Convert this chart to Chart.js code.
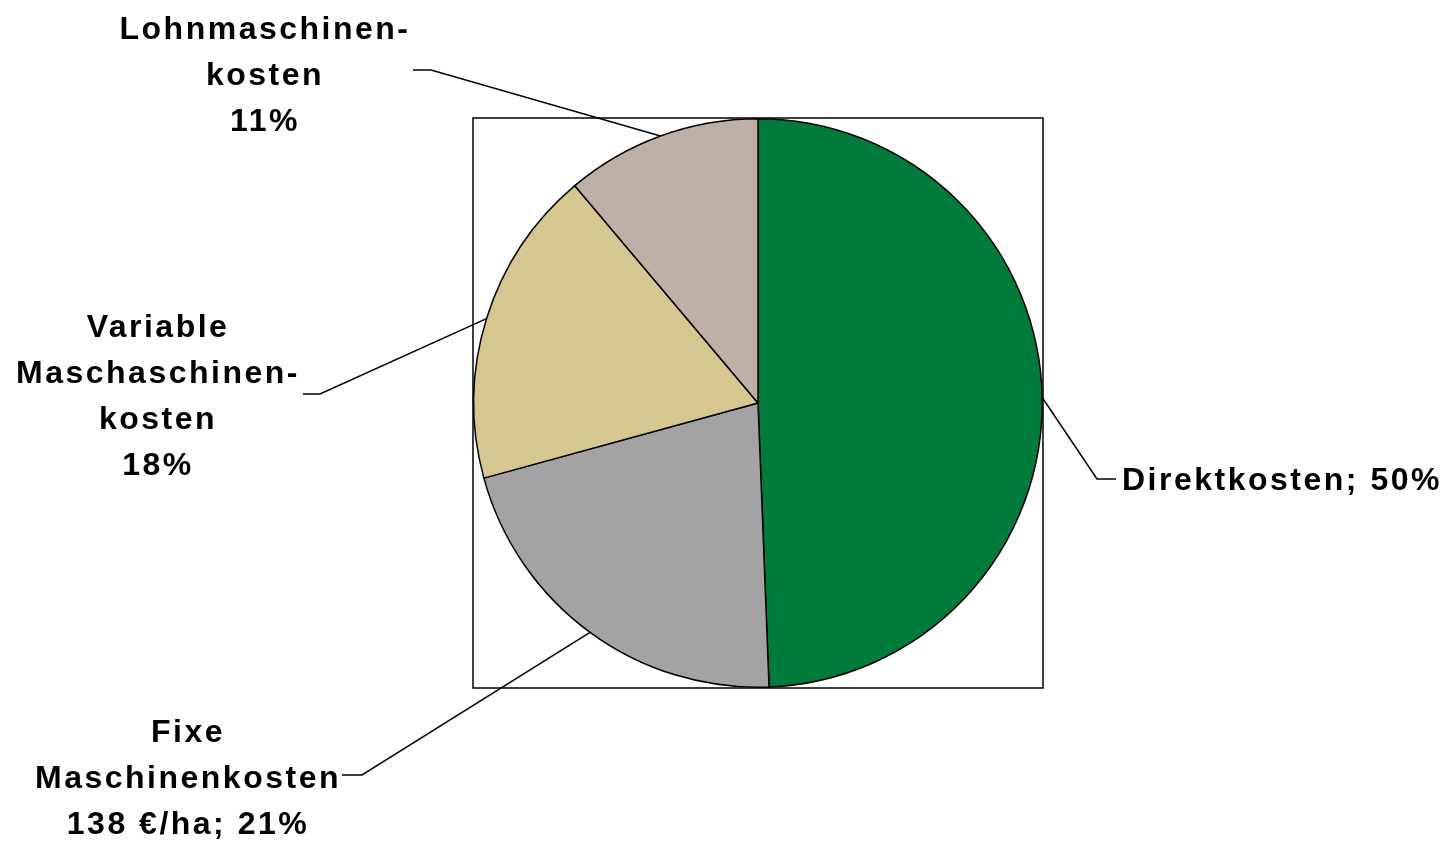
<!DOCTYPE html>
<html>
<head>
<meta charset="utf-8">
<script src="https://cdn.jsdelivr.net/npm/chart.js@4.4.1/dist/chart.umd.min.js"></script>
<style>
html,body{margin:0;padding:0;background:#fff;}
#wrap{width:1444px;height:842px;position:relative;}
</style>
</head>
<body>
<div id="wrap"><canvas id="c" width="1444" height="842"></canvas></div>
<script>
// Data (€/ha)
const categories = ['Direktkosten', 'Fixe Maschinenkosten', 'Variable Maschaschinenkosten', 'Lohnmaschinenkosten'];
const values = [319, 138, 117, 72];
const percentLabels = ['50%', '21%', '18%', '11%'];
const labelLines = [
  ['Direktkosten; 50%'],
  ['Fixe', 'Maschinenkosten', '138 €/ha; 21%'],
  ['Variable', 'Maschaschinen-', 'kosten', '18%'],
  ['Lohnmaschinen-', 'kosten', '11%']
];
const colors = ['#007B3C', '#A3A3A3', '#D5C78F', '#BFB0A7'];

// Layout for the labels (positions only)
const labelLayout = [
  {x: 1122, y: 490, align: 'left',   knee: [1097, 479], tail: 1116},
  {x: 188,  y: 742, align: 'center', knee: [362, 775],  tail: 342},
  {x: 158,  y: 337, align: 'center', knee: [320, 394],  tail: 303},
  {x: 265,  y: 39,  align: 'center', knee: [431, 70],   tail: 413}
];

const labelPlugin = {
  id: 'labels',
  afterDatasetsDraw(chart) {
    const ctx = chart.ctx;
    const ca = chart.chartArea;
    const meta = chart.getDatasetMeta(0);
    ctx.save();
    // frame around plot area
    ctx.strokeStyle = '#000';
    ctx.lineWidth = 1.5;
    ctx.strokeRect(ca.left, ca.top, ca.right - ca.left, ca.bottom - ca.top);
    meta.data.forEach((arc, i) => {
      const p = arc.getProps(['x', 'y', 'startAngle', 'endAngle', 'outerRadius'], true);
      const a = (p.startAngle + p.endAngle) / 2;
      const ex = p.x + p.outerRadius * Math.cos(a);
      const ey = p.y + p.outerRadius * Math.sin(a);
      const L = labelLayout[i];
      ctx.beginPath();
      ctx.strokeStyle = '#000';
      ctx.lineWidth = 1.5;
      ctx.moveTo(ex, ey);
      ctx.lineTo(L.knee[0], L.knee[1]);
      ctx.lineTo(L.tail, L.knee[1]);
      ctx.stroke();
      ctx.fillStyle = '#000';
      ctx.font = 'bold 32px "Liberation Sans", Arial, sans-serif';
      ctx.letterSpacing = '2.5px';
      ctx.textAlign = L.align;
      ctx.textBaseline = 'alphabetic';
      labelLines[i].forEach((t, k) => {
        ctx.fillText(t, L.x, L.y + k * 46);
      });
    });
    ctx.restore();
  }
};

new Chart(document.getElementById('c'), {
  type: 'pie',
  data: {
    labels: categories,
    datasets: [{
      data: values,
      backgroundColor: colors,
      borderColor: '#000',
      borderWidth: 1.5
    }]
  },
  options: {
    responsive: false,
    animation: false,
    layout: {padding: {left: 473, right: 401, top: 118, bottom: 154}},
    plugins: {legend: {display: false}, tooltip: {enabled: false}},
    events: []
  },
  plugins: [labelPlugin]
});
</script>
</body>
</html>
